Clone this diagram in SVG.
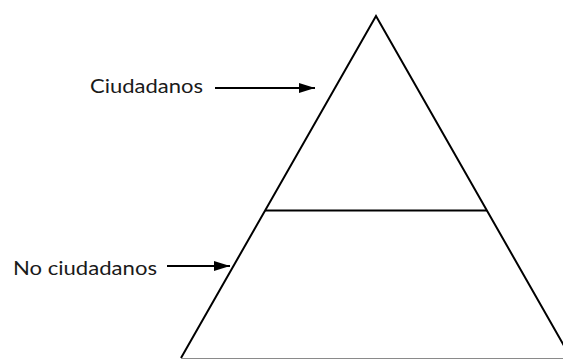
<svg xmlns="http://www.w3.org/2000/svg" width="563" height="359" viewBox="0 0 563 359">
<defs>
<marker id="ah" markerWidth="16" markerHeight="10" refX="16" refY="5" orient="auto" markerUnits="userSpaceOnUse">
<path d="M0,0 L16,5 L0,10 Z" fill="#000"/>
</marker>
<style>
.lbl{font-family:Lato,"Open Sans",sans-serif;font-size:19.5px;fill:#1a1a1a}
.edge{stroke:#000;stroke-width:2;fill:none}
</style>
</defs>
<rect width="563" height="359" fill="#fff"/>
<g id="pyramid">
<path class="edge" d="M181,358 L376,16 L571,358"/>
<line x1="181" y1="358.5" x2="563" y2="358.5" stroke="#8a8a8a" stroke-width="1"/>
<line class="edge" x1="265" y1="210.5" x2="487" y2="210.5"/>
</g>
<g id="ciudadanos">
<text class="lbl" x="90" y="93" textLength="113" lengthAdjust="spacingAndGlyphs">Ciudadanos</text>
</g>
<g id="no-ciudadanos">
<text class="lbl" x="13" y="275" textLength="144" lengthAdjust="spacingAndGlyphs">No ciudadanos</text>
</g>
<g id="connectors">
<line class="edge" x1="215" y1="88" x2="315" y2="88" marker-end="url(#ah)"/>
<line class="edge" x1="167" y1="266" x2="230" y2="266" marker-end="url(#ah)"/>
</g>
</svg>
